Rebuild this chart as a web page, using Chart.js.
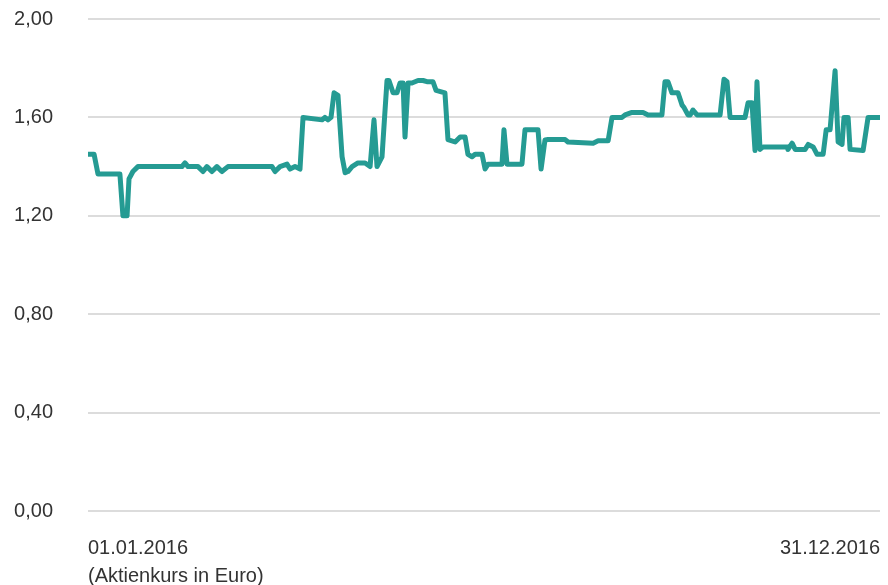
<!DOCTYPE html>
<html>
<head>
<meta charset="utf-8">
<script src="https://cdn.jsdelivr.net/npm/chart.js@4/dist/chart.umd.min.js"></script>
<style>
  html, body { margin: 0; padding: 0; background: #fff; }
  #wrap { width: 888px; height: 585px; }
</style>
</head>
<body>
<div id="wrap"><canvas id="c" width="888" height="585"></canvas></div>
<script>
// Day of year (0 = 01.01.2016, 365 = 31.12.2016)
const days = [0, 2.8, 4.6, 14.7, 16.1, 18.0, 18.9, 20.7, 23.0, 43.3, 44.7, 46.1, 50.7, 53.0, 54.8, 57.1, 59.4, 61.7, 64.5, 84.8, 86.2, 88.5, 91.7, 93.1, 95.4, 97.7, 99.1, 107.9, 109.2, 110.6, 112.0, 113.4, 115.2, 117.1, 118.5, 119.8, 121.7, 124.4, 127.7, 130.0, 131.8, 133.2, 135.5, 136.9, 137.8, 138.7, 140.6, 142.4, 143.8, 145.2, 146.1, 147.5, 149.3, 152.1, 154.4, 156.2, 159.0, 160.4, 164.5, 165.9, 169.2, 171.5, 173.8, 175.1, 177.0, 178.4, 181.6, 183.0, 184.4, 190.8, 191.7, 193.1, 200.0, 201.4, 207.4, 208.8, 210.6, 212.0, 219.9, 221.2, 232.8, 235.1, 239.7, 241.5, 246.1, 247.5, 250.7, 255.8, 258.1, 264.5, 265.9, 267.3, 269.1, 271.9, 273.8, 274.7, 276.5, 277.5, 278.8, 280.7, 291.3, 293.1, 294.5, 295.9, 302.8, 304.2, 306.0, 307.4, 308.3, 309.7, 311.1, 322.2, 322.6, 324.5, 325.9, 330.5, 331.9, 334.2, 336.0, 338.8, 340.2, 342.0, 344.3, 345.7, 347.5, 348.4, 350.3, 351.2, 357.2, 359.5, 365];
// Share price in Euro
const prices = [1.45, 1.45, 1.37, 1.37, 1.20, 1.20, 1.35, 1.38, 1.40, 1.40, 1.415, 1.40, 1.40, 1.38, 1.40, 1.38, 1.40, 1.38, 1.40, 1.40, 1.38, 1.40, 1.41, 1.39, 1.40, 1.39, 1.60, 1.59, 1.60, 1.59, 1.60, 1.70, 1.69, 1.44, 1.375, 1.38, 1.40, 1.415, 1.415, 1.40, 1.59, 1.40, 1.44, 1.63, 1.75, 1.75, 1.70, 1.70, 1.74, 1.74, 1.52, 1.74, 1.74, 1.75, 1.75, 1.745, 1.745, 1.71, 1.70, 1.51, 1.50, 1.52, 1.52, 1.45, 1.44, 1.45, 1.45, 1.39, 1.41, 1.41, 1.55, 1.41, 1.41, 1.55, 1.55, 1.39, 1.508, 1.51, 1.51, 1.50, 1.495, 1.505, 1.505, 1.60, 1.60, 1.61, 1.62, 1.62, 1.61, 1.61, 1.745, 1.745, 1.70, 1.70, 1.65, 1.64, 1.61, 1.61, 1.63, 1.61, 1.61, 1.755, 1.745, 1.60, 1.60, 1.66, 1.66, 1.465, 1.745, 1.47, 1.48, 1.48, 1.47, 1.495, 1.47, 1.47, 1.49, 1.48, 1.45, 1.45, 1.55, 1.55, 1.79, 1.50, 1.49, 1.60, 1.60, 1.47, 1.465, 1.60, 1.60];
const xTickLabels = ['01.01.2016', '31.12.2016'];
const xTickDays = [0, 365];
const axisNote = '(Aktienkurs in Euro)';
const yTicks = [0, 0.4, 0.8, 1.2, 1.6, 2.0];

const points = days.map((d, i) => ({ x: d, y: prices[i] }));
const FONT = { family: '"Liberation Sans", Arial, Helvetica, sans-serif', size: 20, lineHeight: 1.4 };
function zeroPad(axis) {
  axis.paddingLeft = 0; axis.paddingRight = 0; axis.paddingTop = 0; axis.paddingBottom = 0;
}

new Chart(document.getElementById('c'), {
  type: 'line',
  data: {
    datasets: [{
      data: points,
      borderColor: '#259b93',
      borderWidth: 5,
      borderJoinStyle: 'round',
      borderCapStyle: 'round',
      pointRadius: 0,
      tension: 0,
      fill: false
    }]
  },
  options: {
    responsive: false,
    animation: false,
    devicePixelRatio: 1,
    layout: { padding: { top: 19, right: 8, left: 0, bottom: 0 } },
    plugins: { legend: { display: false }, tooltip: { enabled: false } },
    scales: {
      x: {
        type: 'linear',
        min: 0,
        max: 365,
        afterBuildTicks: (axis) => { axis.ticks = xTickDays.map(v => ({ value: v })); },
        afterFit: (axis) => { axis.height = 74; zeroPad(axis); },
        grid: { display: false },
        border: { display: false },
        ticks: {
          align: 'inner',
          maxRotation: 0,
          autoSkip: false,
          padding: 15,
          color: '#333',
          font: FONT,
          callback: (v) => {
            const i = xTickDays.indexOf(v);
            if (i === 0) return [xTickLabels[0], axisNote];
            return i >= 0 ? xTickLabels[i] : '';
          }
        }
      },
      y: {
        min: 0,
        max: 2,
        afterBuildTicks: (axis) => { axis.ticks = yTicks.map(v => ({ value: v })); },
        afterFit: (axis) => { axis.width = 88; zeroPad(axis); },
        grid: { color: '#dcdcdc', lineWidth: 2, drawTicks: false },
        border: { display: false },
        ticks: {
          padding: 35,
          color: '#333',
          font: FONT,
          callback: (v) => v.toFixed(2).replace('.', ',')
        }
      }
    }
  }
});
</script>
</body>
</html>
